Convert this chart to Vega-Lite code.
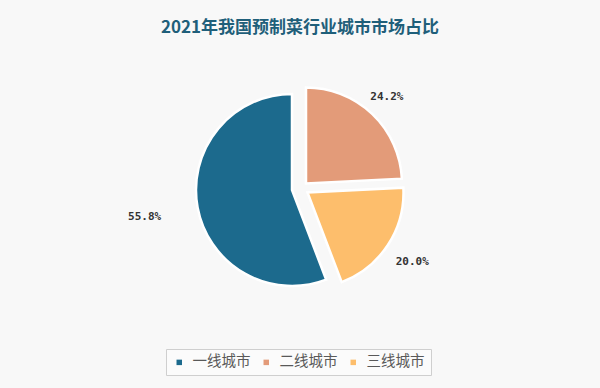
{
  "$schema": "https://vega.github.io/schema/vega-lite/v6.json",
  "width": 600,
  "height": 297,
  "autosize": {"type": "none"},
  "padding": {"left": 0, "top": 40, "right": 0, "bottom": 51},
  "background": "#f8f8f8",
  "title": {
    "text": "2021年我国预制菜行业城市市场占比",
    "font": "Noto Sans CJK SC",
    "fontSize": 17,
    "fontWeight": "bold",
    "color": "#1f5f7a",
    "anchor": "middle",
    "offset": 3
  },
  "data": {
    "values": [
      {"city": "一线城市", "share": 0.558, "rank": 3},
      {"city": "二线城市", "share": 0.242, "rank": 1},
      {"city": "三线城市", "share": 0.200, "rank": 2}
    ]
  },
  "encoding": {
    "theta": {"field": "share", "type": "quantitative", "stack": true},
    "order": {"field": "rank", "type": "quantitative"},
    "color": {
      "field": "city",
      "type": "nominal",
      "scale": {"domain": ["一线城市", "二线城市", "三线城市"], "range": ["#1c6a8d", "#e39b79", "#fdbe6c"]},
      "legend": {
        "title": null,
        "orient": "none",
        "legendX": 166,
        "legendY": 309,
        "direction": "horizontal",
        "symbolType": "square",
        "symbolSize": 30,
        "symbolStrokeWidth": 0,
        "labelOffset": 6,
        "labelFontSize": 14.5,
        "labelFont": "Noto Sans CJK SC",
        "labelColor": "#595959",
        "strokeColor": "#cfcfcf",
        "fillColor": "#fbfbfb",
        "padding": 6,
        "columnPadding": 8
      }
    }
  },
  "layer": [
    {
      "mark": {"type": "arc", "radius": 96, "stroke": "white", "strokeWidth": 2.5, "xOffset": -8, "yOffset": 1.5},
      "encoding": {"opacity": {"condition": {"test": "datum.city === '一线城市'", "value": 1}, "value": 0}}
    },
    {
      "mark": {"type": "arc", "radius": 96, "stroke": "white", "strokeWidth": 2.5, "xOffset": 6, "yOffset": -5},
      "encoding": {"opacity": {"condition": {"test": "datum.city === '二线城市'", "value": 1}, "value": 0}}
    },
    {
      "mark": {"type": "arc", "radius": 96, "stroke": "white", "strokeWidth": 2.5, "xOffset": 7.5, "yOffset": 4},
      "encoding": {"opacity": {"condition": {"test": "datum.city === '三线城市'", "value": 1}, "value": 0}}
    },
    {
      "mark": {"type": "text", "radius": 158, "font": "DejaVu Sans Mono", "fontSize": 11, "fontWeight": "bold"},
      "encoding": {
        "color": {"value": "#333333"},
        "detail": {"field": "city"},
        "text": {"condition": {"test": "datum.city === '一线城市'", "field": "share", "type": "quantitative", "format": ".1%"}, "value": ""}
      }
    },
    {
      "mark": {"type": "text", "radius": 126, "font": "DejaVu Sans Mono", "fontSize": 11, "fontWeight": "bold"},
      "encoding": {
        "color": {"value": "#333333"},
        "detail": {"field": "city"},
        "text": {"condition": {"test": "datum.city === '二线城市'", "field": "share", "type": "quantitative", "format": ".1%"}, "value": ""}
      }
    },
    {
      "mark": {"type": "text", "radius": 134, "font": "DejaVu Sans Mono", "fontSize": 11, "fontWeight": "bold"},
      "encoding": {
        "color": {"value": "#333333"},
        "detail": {"field": "city"},
        "text": {"condition": {"test": "datum.city === '三线城市'", "field": "share", "type": "quantitative", "format": ".1%"}, "value": ""}
      }
    }
  ],
  "config": {"view": {"stroke": null}}
}
